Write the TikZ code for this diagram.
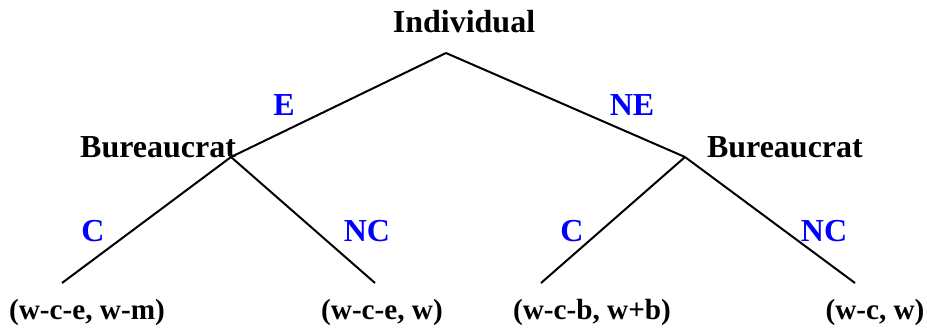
\documentclass[tikz,border=0pt]{standalone}
\usepackage{fontspec}
\setmainfont{Liberation Serif}
\usetikzlibrary{positioning}

\begin{document}
\begin{tikzpicture}[-,x=0.5pt,y=-0.5pt,line width=1pt,
    player/.style={font=\bfseries\fontsize{16}{19}\selectfont,inner sep=0pt,anchor=base},
    move/.style={player,text=blue},
    payoff/.style={player,font=\bfseries\fontsize{14.6}{17}\selectfont}]
            \useasboundingbox (0,0) rectangle (927,329);

            % decision points
            \coordinate (1) at (446,53);
            \coordinate (2) at (231,157);
            \coordinate (3) at (685,157);
            % end points
            \coordinate (4) at (62,283);
            \coordinate (5) at (375,283);
            \coordinate (6) at (541,283);
            \coordinate (7) at (855,283);

            \node[player] (ind) at (464,32) {Individual};
            \node[player,anchor=base east] (bur1) at (237,157) {Bureaucrat};
            \node[player,anchor=base west] (bur2) at (706,157) {Bureaucrat};

            \node[move] (e) at (284,115) {E};
            \node[move] (ne) at (632,115) {NE};
            \node[move] (c1) at (93,241) {C};
            \node[move] (nc1) at (367,241) {NC};
            \node[move] (c2) at (572,241) {C};
            \node[move] (nc2) at (824,241) {NC};

            \node[payoff] (p4) at (87,319) {(w-c-e, w-m)};
            \node[payoff] (p5) at (382,319) {(w-c-e, w)};
            \node[payoff] (p6) at (592,319) {(w-c-b, w+b)};
            \node[payoff] (p7) at (875,319) {(w-c, w)};

            \path
                (1) edge (2)
                (1) edge (3)
                (2) edge (4)
                (2) edge (5)
                (3) edge (6)
                (3) edge (7)
            ;
\end{tikzpicture}
\end{document}
